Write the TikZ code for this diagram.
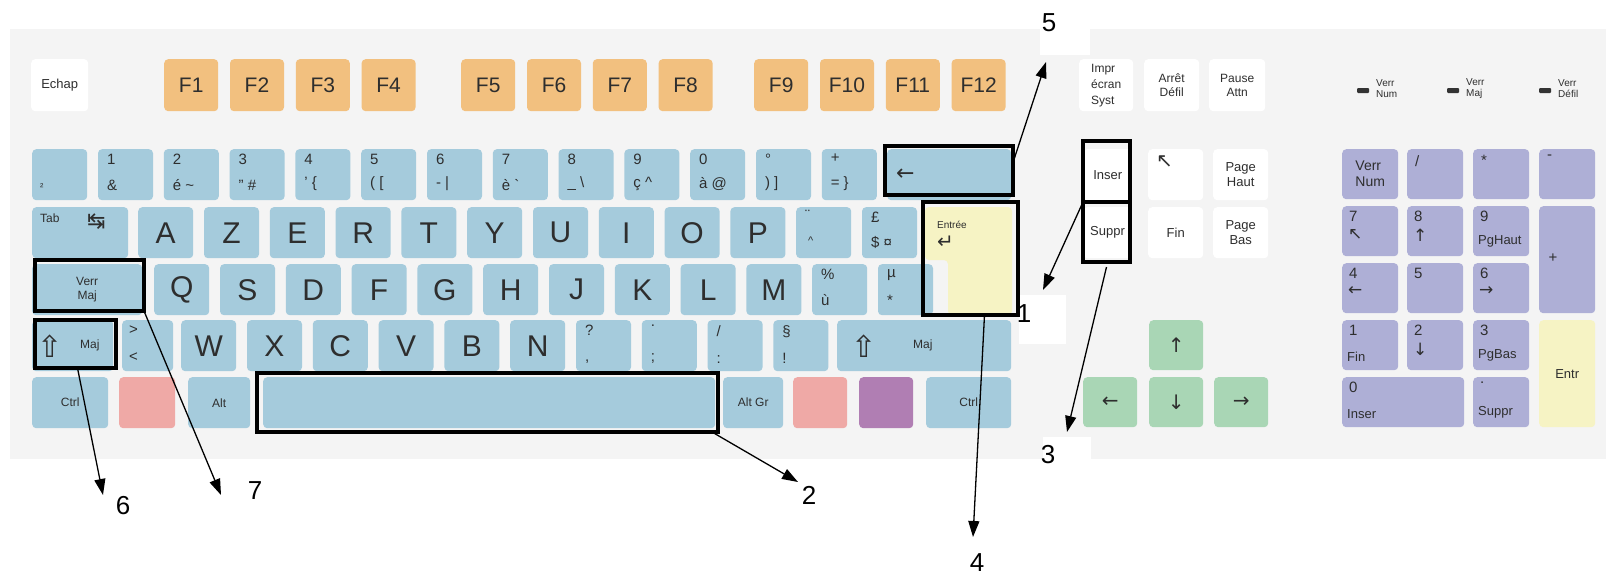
\documentclass[tikz,border=0pt]{standalone}
\usepackage{fontspec}
\setmainfont{Liberation Sans}
\newfontfamily\glyphs{DejaVu Sans}
\usetikzlibrary{calc}
\usetikzlibrary{positioning}
\usetikzlibrary{arrows.meta}

\definecolor{boardgray}{HTML}{F4F4F4}
\definecolor{keyblue}{HTML}{A5CBDC}
\definecolor{fnorange}{HTML}{F2C07F}
\definecolor{entryellow}{HTML}{F6F3C4}
\definecolor{winpink}{HTML}{EFA9A6}
\definecolor{menupurple}{HTML}{B07EB3}
\definecolor{padlilac}{HTML}{AEAFD6}
\definecolor{navgreen}{HTML}{A9D6B5}
\definecolor{ink}{HTML}{2E2E2E}

\tikzset{
  kbkey/.style={anchor=north west, inner sep=0pt, rounded corners=4pt,
    minimum width=55pt, minimum height=51pt, fill=keyblue, text=ink,
    align=center, font=\fontsize{12}{14}\selectfont},
  letter/.style={kbkey, font=\fontsize{30}{30}\selectfont},
  fkey/.style={kbkey, fill=fnorange, minimum width=54pt, minimum height=52pt,
    font=\fontsize{21}{21}\selectfont},
  whitekey/.style={kbkey, fill=white, font=\fontsize{13}{15}\selectfont},
  greenkey/.style={kbkey, fill=navgreen, minimum width=54pt, minimum height=50pt,
    font=\glyphs\fontsize{20}{20}\selectfont},
  padkey/.style={kbkey, fill=padlilac, minimum width=56pt, minimum height=50pt},
  topchar/.style={anchor=north west, inner sep=0pt, text=ink,
    font=\fontsize{15}{15}\selectfont},
  lowchar/.style={topchar, anchor=south west},
  glyph/.style={inner sep=0pt, text=ink, font=\glyphs\fontsize{#1}{#1}\selectfont},
  highlight/.style={anchor=north west, draw=black, line width=3.5pt,
    inner sep=0pt, outer sep=0pt},
  tagnum/.style={inner sep=0pt, text=black, font=\fontsize{26}{26}\selectfont},
  pointer/.style={line width=1.3pt, -{Triangle[length=16pt, width=11pt]}},
}

\begin{document}
\begin{tikzpicture}[x=1pt, y=-1pt]
  \useasboundingbox (0,0) rectangle (1606,579);
  \fill[boardgray] (10,29) rectangle (1606,459);

  % function row
  \node[whitekey, minimum width=57pt, minimum height=52pt] (esc) at (31,59) {Echap};
  \foreach \n/\x in {1/164, 2/229.8, 3/295.6, 4/361.4,
                     5/461, 6/526.8, 7/592.6, 8/658.4,
                     9/754, 10/819.8, 11/885.6, 12/951.4}{
    \node[fkey] (f\n) at (\x,59) {F\n};
  }

  % number row
  \node[kbkey] (n0) at (32,149) {};
  \node[lowchar, font=\fontsize{10}{10}\selectfont] (n0-dn) at ([shift={(8,-10)}]n0.south west) {²};
  \foreach \i/\up/\down in {
    1/1/\&,
    2/2/é \textasciitilde,
    3/3/" \#,
    4/4/' \{,
    5/5/( [,
    6/6/- |,
    7/7/è \textasciigrave,
    8/8/\_ \textbackslash,
    9/9/ç \textasciicircum,
    10/0/à @,
    11/°/) ],
    12/+/= \}
  }{
    \node[kbkey] (n\i) at ({32+65.8*\i},149) {};
    \node[topchar] (n\i-up) at ([shift={(9,5)}]n\i.north west) {\up};
    \node[lowchar] (n\i-dn) at ([shift={(9,-10)}]n\i.south west) {\down};
  }
  \node[kbkey, minimum width=124pt] (back) at (887,149) {};
  \node[glyph=22, anchor=west] (back-sym) at ([xshift=9pt]back.west) {←};

  % azerty row
  \node[kbkey, minimum width=96pt] (tab) at (32,207) {};
  \node[topchar, font=\fontsize{12}{12}\selectfont] (tab-txt) at ([shift={(8,7)}]tab.north west) {Tab};
  \node[glyph=22, anchor=north west] (tab-sym) at ([shift={(55,6)}]tab.north west) {↹};
  \foreach \j/\c in {0/A, 1/Z, 2/E, 3/R, 4/T, 5/Y, 6/U, 7/I, 8/O, 9/P}{
    \node[letter] (l\c) at ({138+65.8*\j},207) {\c};
  }
  \node[kbkey] (trema) at (796,207) {};
  \node[topchar] (trema-up) at ([shift={(9,3)}]trema.north west) {¨};
  \node[lowchar, font=\fontsize{11}{11}\selectfont] (trema-dn) at ([shift={(12,-14)}]trema.south west) {\textasciicircum};
  \node[kbkey] (pound) at (861.8,207) {};
  \node[topchar] (pound-up) at ([shift={(9,5)}]pound.north west) {£};
  \node[lowchar] (pound-dn) at ([shift={(9,-10)}]pound.south west) {\$ ¤};

  % qsdf row
  \node[kbkey, minimum width=110pt] (caps) at (32,264) {Verr\\Maj};
  \foreach \k/\c in {0/Q, 1/S, 2/D, 3/F, 4/G, 5/H, 6/J, 7/K, 8/L, 9/M}{
    \node[letter] (l\c) at ({154+65.8*\k},264) {\c};
  }
  \foreach \k/\name/\up/\down in {10/pct/\%/ù, 11/mu/µ/*}{
    \node[kbkey] (\name) at ({154+65.8*\k},264) {};
    \node[topchar] (\name-up) at ([shift={(9,5)}]\name.north west) {\up};
    \node[lowchar] (\name-dn) at ([shift={(9,-10)}]\name.south west) {\down};
  }

  % wxcv row
  \node[kbkey, minimum width=81pt] (lshift) at (32,320) {};
  \node[glyph=30, anchor=west] (lshift-sym) at ([xshift=5pt]lshift.west) {⇧};
  \node[anchor=west, inner sep=0pt, text=ink, font=\fontsize{12}{12}\selectfont] (lshift-txt) at ([xshift=48pt]lshift.west) {Maj};
  \node[kbkey, minimum width=51pt] (ltgt) at (122,320) {};
  \node[topchar] (ltgt-up) at ([shift={(7,6)}]ltgt.north west) {>};
  \node[lowchar] (ltgt-dn) at ([shift={(7,-10)}]ltgt.south west) {<};
  \foreach \m/\c in {0/W, 1/X, 2/C, 3/V, 4/B, 5/N}{
    \node[letter] (l\c) at ({181+65.8*\m},320) {\c};
  }
  \foreach \m/\name/\up/\down in {6/quest/?/{,}, 7/dot/./;, 8/slash/{/}/:, 9/sect/§/!}{
    \node[kbkey] (\name) at ({181+65.8*\m},320) {};
    \node[topchar] (\name-up) at ([shift={(9,5)}]\name.north west) {\up};
    \node[lowchar] (\name-dn) at ([shift={(9,-8)}]\name.south west) {\down};
  }
  \node[kbkey, minimum width=174pt] (rshift) at (837,320) {};
  \node[glyph=30, anchor=west] (rshift-sym) at ([xshift=14pt]rshift.west) {⇧};
  \node[anchor=west, inner sep=0pt, text=ink, font=\fontsize{12}{12}\selectfont] (rshift-txt) at ([xshift=76pt]rshift.west) {Maj};

  % bottom row
  \node[kbkey, minimum width=76pt] (lctrl) at (32,377) {Ctrl};
  \node[kbkey, minimum width=56pt, fill=winpink] (lwin) at (119,377) {};
  \node[kbkey, minimum width=62pt] (alt) at (188,377) {Alt};
  \node[kbkey, minimum width=452pt] (space) at (263,377) {};
  \node[kbkey, minimum width=60pt] (altgr) at (723,377) {Alt Gr};
  \node[kbkey, minimum width=54pt, fill=winpink] (rwin) at (793,377) {};
  \node[kbkey, minimum width=54pt, fill=menupurple] (menu) at (859,377) {};
  \node[kbkey, minimum width=85pt] (rctrl) at (926,377) {Ctrl};

  % enter key
  \fill[entryellow, rounded corners=4pt] (925,207) -- (1012,207) -- (1012,315)
    -- (948,315) -- (948,260) -- (925,260) -- cycle;
  \node[anchor=north west, inner sep=0pt, text=ink, font=\fontsize{10}{10}\selectfont] (enter-txt) at (937,221) {Entrée};
  \node[glyph=20, anchor=north west] (enter-sym) at (937,236) {↵};

  % print screen block
  \node[whitekey, minimum width=54pt, minimum height=52pt, align=left, font=\fontsize{12}{16}\selectfont] (prt) at (1079,59) {Impr\\écran\\Syst};
  \node[whitekey, minimum width=55pt, minimum height=52pt, font=\fontsize{12}{14}\selectfont] (scroll) at (1144,59) {Arrêt\\Défil};
  \node[whitekey, minimum width=56pt, minimum height=52pt, font=\fontsize{12}{14}\selectfont] (pause) at (1209,59) {Pause\\Attn};

  % editing block
  \node[whitekey, minimum width=49pt] (ins) at (1083,149) {Inser};
  \node[whitekey] (home) at (1148,149) {};
  \node[glyph=20, anchor=north west] (home-sym) at ([shift={(8,7)}]home.north west) {↖};
  \node[whitekey] (pgup) at (1213,149) {Page\\Haut};
  \node[whitekey, minimum width=49pt] (del) at (1083,207) {};
  \node[anchor=west, inner sep=0pt, text=ink, font=\fontsize{13}{13}\selectfont] (del-txt) at ([xshift=7pt]del.west) {Suppr};
  \node[whitekey] (fin) at (1148,207) {Fin};
  \node[whitekey] (pgdn) at (1213,207) {Page\\Bas};

  % arrow keys
  \node[greenkey] (arrUp) at (1149,320) {↑};
  \node[greenkey] (arrLeft) at (1083,377) {←};
  \node[greenkey] (arrDown) at (1149,377) {↓};
  \node[greenkey] (arrRight) at (1214,377) {→};

  % lock lights
  \foreach \led/\x/\txt in {ledNum/1357/Num, ledCaps/1447/Maj, ledScroll/1539/Défil}{
    \fill[black!80, rounded corners=1pt] (\x,88) rectangle ++(12,5);
    \node[anchor=west, inner sep=0pt, align=left, text=ink, font=\fontsize{10}{11}\selectfont] (\led) at ({\x+19},89) {Verr\\\txt};
  }

  % numeric keypad
  \node[padkey, align=left, font=\fontsize{14}{16}\selectfont] (numlock) at (1342,149) {Verr\\Num};
  \foreach \name/\x/\c in {pdiv/1407/{/}, pmul/1473/*, pmin/1539/-}{
    \node[padkey] (\name) at (\x,149) {};
    \node[topchar] (\name-up) at ([shift={(8,6)}]\name.north west) {\c};
  }
  \foreach \name/\x/\y/\up/\sym in {p7/1342/206/7/↖, p8/1407/206/8/↑, p4/1342/263/4/←,
                                    p5/1407/263/5/{}, p6/1473/263/6/→, p2/1407/320/2/↓}{
    \node[padkey] (\name) at (\x,\y) {};
    \node[topchar] (\name-up) at ([shift={(7,5)}]\name.north west) {\up};
    \node[glyph=17, anchor=north west] (\name-sym) at ([shift={(6,23)}]\name.north west) {\sym};
  }
  \foreach \name/\x/\y/\up/\down in {p9/1473/206/9/PgHaut, p1/1342/320/1/Fin,
                                     p3/1473/320/3/PgBas, pdot/1473/377/./Suppr}{
    \node[padkey] (\name) at (\x,\y) {};
    \node[topchar] (\name-up) at ([shift={(7,5)}]\name.north west) {\up};
    \node[lowchar, font=\fontsize{13}{13}\selectfont] (\name-dn) at ([shift={(5,-9)}]\name.south west) {\down};
  }
  \node[padkey, minimum width=122pt] (p0) at (1342,377) {};
  \node[topchar] (p0-up) at ([shift={(7,5)}]p0.north west) {0};
  \node[lowchar, font=\fontsize{13}{13}\selectfont] (p0-dn) at ([shift={(5,-9)}]p0.south west) {Inser};
  \node[padkey, minimum height=107pt] (pplus) at (1539,206) {};
  \node[inner sep=0pt, text=ink, font=\fontsize{15}{15}\selectfont] (pplus-txt) at (1553,258) {+};
  \node[padkey, minimum height=107pt, fill=entryellow, font=\fontsize{13}{13}\selectfont] (pent) at (1539,320) {Entr};

  % white patches behind the numbers
  \fill[white] (1040,0) rectangle (1090,55);
  \fill[white] (1019,295) rectangle (1066,344);
  \fill[white] (1043,437) rectangle (1091,459);

  % black frames
  \node[highlight, minimum width=128pt, minimum height=49pt] (boxBack) at (885,146) {};
  \node[highlight, minimum width=95pt, minimum height=113pt] (boxEnter) at (923,202) {};
  \node[highlight, minimum width=109pt, minimum height=51pt] (boxCaps) at (35,260) {};
  \node[highlight, minimum width=81pt, minimum height=48pt] (boxShift) at (35,320) {};
  \node[highlight, minimum width=461pt, minimum height=59pt] (boxSpace) at (257,373) {};
  \node[highlight, minimum width=47pt, minimum height=61pt] (boxIns) at (1083,141) {};
  \node[highlight, minimum width=47pt, minimum height=60pt] (boxDel) at (1083,202) {};

  % numbers
  \node[tagnum] (c1) at (1024,314) {1};
  \node[tagnum] (c2) at (809,495) {2};
  \node[tagnum] (c3) at (1048,455) {3};
  \node[tagnum] (c4) at (977,563) {4};
  \node[tagnum] (c5) at (1049,23) {5};
  \node[tagnum] (c6) at (123,506) {6};
  \node[tagnum] (c7) at (255,491) {7};

  % arrows
  \coordinate (tip1) at (1043,290);
  \coordinate (tip2) at (798,482);
  \coordinate (tip3) at (1067,432);
  \coordinate (tip4) at (973,537);
  \coordinate (tip5) at (1046,62);
  \coordinate (tip6) at (103,495);
  \coordinate (tip7) at (221,495);
  \draw[pointer] (boxIns.south west) -- (tip1);
  \draw[pointer] ([xshift=-6pt]boxSpace.south east) -- (tip2);
  \draw[pointer] ([yshift=-5pt]boxDel.south) -- (tip3);
  \draw[pointer] ([xshift=14pt]boxEnter.south) -- (tip4);
  \draw[pointer] ([yshift=8pt]boxBack.east) -- (tip5);
  \draw[pointer] ([xshift=2pt]boxShift.south) -- (tip6);
  \draw[pointer] (boxCaps.south east) -- (tip7);
\end{tikzpicture}
\end{document}
